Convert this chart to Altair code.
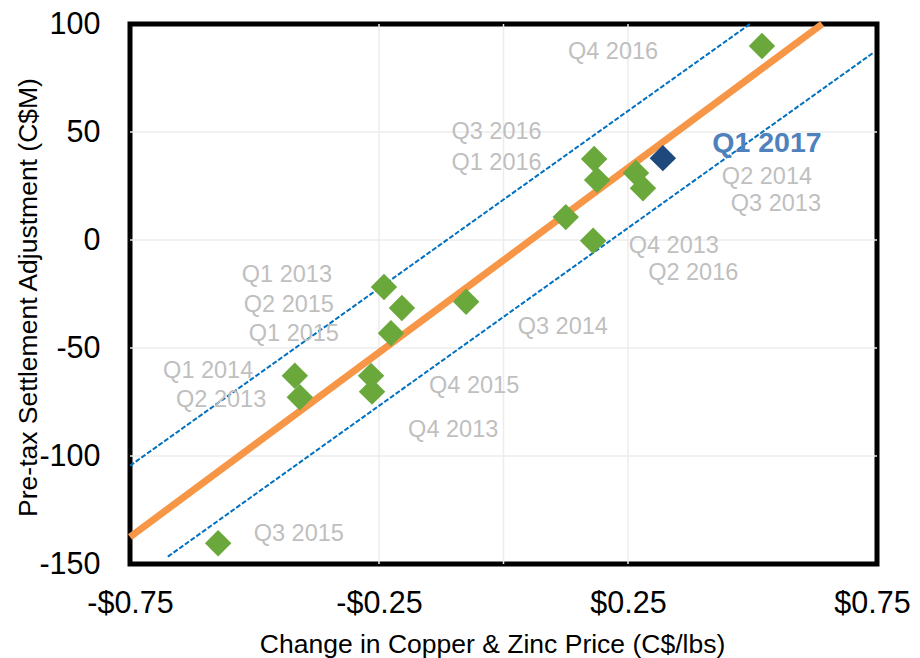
import altair as alt
import pandas as pd

# ---- data ----
quarters = ["Q4 2016", "Q3 2016", "Q1 2016", "Q2 2014", "Q3 2013", "Q4 2013",
            "Q2 2016", "Q3 2014", "Q1 2013", "Q2 2015", "Q1 2015", "Q1 2014",
            "Q2 2013", "Q4 2015", "Q4 2013", "Q3 2015"]
price_change = [0.519, 0.182, 0.188, 0.266, 0.280, 0.125, 0.180, -0.075,
                -0.240, -0.204, -0.226, -0.419, -0.409, -0.266, -0.264, -0.573]
adjustment = [89.8, 37.5, 27.8, 31.0, 24.0, 10.6, -0.3, -28.6,
              -21.8, -31.5, -43.2, -62.8, -72.8, -62.9, -70.2, -140.4]
# label anchor positions (data units)
label_x = [0.220, -0.014, -0.014, 0.529, 0.547, 0.342, 0.381, 0.119,
           -0.435, -0.431, -0.421, -0.593, -0.567, -0.059, -0.101, -0.411]
label_y = [87.0, 50.0, 35.6, 29.2, 16.7, -2.8, -15.3, -40.3,
           -16.2, -30.1, -43.5, -60.6, -74.1, -67.6, -88.0, -136.1]

latest_quarter = ["Q1 2017"]
latest_price_change = [0.320]
latest_adjustment = [37.9]
latest_label_x = [0.529]
latest_label_y = [44.9]

trend_x = [-0.75, 0.64]
trend_y = [-137.5, 100.0]
band_upper_x = [-0.75, 0.495]
band_upper_y = [-104.5, 100.0]
band_lower_x = [-0.674, 0.7426]
band_lower_y = [-146.6, 86.7]

x_ticks = [-0.75, -0.25, 0.25, 0.75]
y_ticks = [-150, -100, -50, 0, 50, 100]
x_grid = [-0.25, 0.0, 0.25]
y_grid = [-100, -50, 0, 50]

FONT = "Liberation Sans"

points = pd.DataFrame({"x": price_change, "y": adjustment, "q": quarters})
labels = pd.DataFrame({"x": label_x, "y": label_y, "q": quarters})
latest = pd.DataFrame({"x": latest_price_change, "y": latest_adjustment, "q": latest_quarter})
latest_lab = pd.DataFrame({"x": latest_label_x, "y": latest_label_y, "q": latest_quarter})
trend = pd.DataFrame({"x": trend_x, "y": trend_y})
bands = pd.DataFrame({
    "x": band_upper_x + band_lower_x,
    "y": band_upper_y + band_lower_y,
    "band": ["upper"] * len(band_upper_x) + ["lower"] * len(band_lower_x),
})
gx = pd.DataFrame({"x": x_grid})
gy = pd.DataFrame({"y": y_grid})

x_scale = alt.Scale(domain=[-0.75, 0.75], nice=False, zero=False)
y_scale = alt.Scale(domain=[-150, 100], nice=False, zero=False)

x_axis = alt.Axis(
    values=x_ticks, grid=False, ticks=False, tickSize=0, domain=False,
    labelExpr="(datum.value < 0 ? '-$' : '$') + format(abs(datum.value), '.2f')",
    labelFlush=False, labelOverlap=False, labelBound=False,
    labelOffset={"condition": {"test": "datum.value > 0.7", "value": -5}, "value": 0},
    labelFont=FONT, labelFontSize=30.5, labelColor="#000000", labelPadding=24,
    title="Change in Copper & Zinc Price (C$/lbs)",
    titleFont=FONT, titleFontSize=26.5, titleFontWeight="normal", titleColor="#000000",
    titleX=362, titleY=88, titleAlign="center", titleBaseline="alphabetic",
)
y_axis = alt.Axis(
    values=y_ticks, grid=False, ticks=False, tickSize=0, domain=False,
    labelExpr="(datum.value < 0 ? '-' : '') + abs(datum.value)",
    labelFlush=False, labelOverlap=False, labelBound=False,
    labelFont=FONT, labelFontSize=30.5, labelColor="#000000", labelPadding=30,
    title="Pre-tax Settlement Adjustment (C$M)",
    titleFont=FONT, titleFontSize=26.5, titleFontWeight="normal", titleColor="#000000",
    titleX=-94, titleY=273, titleAlign="center", titleBaseline="alphabetic", titleAngle=270,
)


def X():
    return alt.X("x:Q", scale=x_scale, axis=x_axis)


def Y():
    return alt.Y("y:Q", scale=y_scale, axis=y_axis)


grid_v = alt.Chart(gx).mark_rule(color="#ECECEC", strokeWidth=1.5).encode(x=X())
grid_h = alt.Chart(gy).mark_rule(color="#ECECEC", strokeWidth=1.5).encode(y=Y())

band_lines = alt.Chart(bands).mark_line(
    color="#0070C0", strokeWidth=2, strokeDash=[5, 2]
).encode(x=X(), y=Y(), detail="band:N")

trend_line = alt.Chart(trend).mark_line(
    color="#F79646", strokeWidth=7, strokeCap="butt"
).encode(x=X(), y=Y())

pts = alt.Chart(points).mark_point(
    shape="diamond", filled=True, size=700, color="#6AA83C", opacity=1
).encode(x=X(), y=Y())

latest_pt = alt.Chart(latest).mark_point(
    shape="diamond", filled=True, size=700, color="#1F497D", opacity=1
).encode(x=X(), y=Y())

lab = alt.Chart(labels).mark_text(
    font=FONT, fontSize=23.5, color="#BFBFBF", align="center", baseline="middle"
).encode(x=X(), y=Y(), text="q:N")

latest_text = alt.Chart(latest_lab).mark_text(
    font=FONT, fontSize=28.5, fontWeight="bold", color="#4F81BD",
    align="center", baseline="middle"
).encode(x=X(), y=Y(), text="q:N")

chart = alt.layer(
    grid_v, grid_h, band_lines, trend_line, lab, latest_text, pts, latest_pt
).properties(
    width=747, height=540,
    autosize=alt.AutoSizeParams(type="none"),
    padding={"left": 122, "top": 16, "right": 35, "bottom": 96},
    background="white",
).configure_view(stroke="#000000", strokeWidth=5)

chart.save("out.html", embed_options={"renderer": "svg", "actions": False})
